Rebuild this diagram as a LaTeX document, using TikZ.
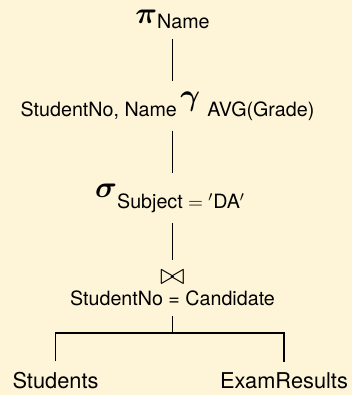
\documentclass[tikz,border=0pt]{standalone}
\usepackage{amsmath}
\usepackage{fontspec}
\setsansfont{TeX Gyre Heros}

\definecolor{paper}{HTML}{FEF5D8}
\newcommand{\bigop}[2][6pt]{\raisebox{#1}{\fontsize{17.3}{20}\selectfont$\boldsymbol{#2}$}}

\begin{document}
\begin{tikzpicture}[
  opnode/.style={inner sep=0pt, outer sep=6pt, anchor=base, font=\sffamily\fontsize{11.2}{13.5}\selectfont},
  leaf/.style={opnode, font=\sffamily\fontsize{12.4}{15}\selectfont},
  branch/.style={line width=1.1pt}]
  % background
  \fill[paper] (0,0) rectangle (7.04,-7.9);

  % operators, top to bottom
  \node[opnode] (proj) at (3.45,-0.56) {\bigop[2.5pt]{\pi}Name};
  \node[opnode] (grp) at (3.35,-2.32) {StudentNo, Name\hspace{2pt}\bigop{\gamma}\hspace{4pt}AVG(Grade)};
  \node[opnode] (sel) at (3.40,-4.16) {\bigop{\sigma}Subject${}={}^\prime$DA$^\prime$};
  \node[opnode, anchor=center] (join) at (3.45,-5.55) {\fontsize{19}{22}\selectfont$\bowtie$};
  \node[opnode] (joincond) at (3.45,-6.1) {StudentNo = Candidate};

  % relations
  \node[leaf] (stud) at (1.11,-7.76) {Students};
  \node[leaf] (exam) at (5.68,-7.76) {ExamResults};

  % edges
  \coordinate (split) at (3.45,-6.66);
  \draw[branch] (proj.south) -- (proj.south |- grp.north);
  \draw[branch] (proj.south |- grp.south) -- (proj.south |- sel.north);
  \draw[branch] (proj.south |- sel.south) -- (proj.south |- join.north);
  \draw[branch] (joincond.south) -- (split);
  \draw[branch] (stud.north) |- (split) -| (exam.north);
\end{tikzpicture}
\end{document}
